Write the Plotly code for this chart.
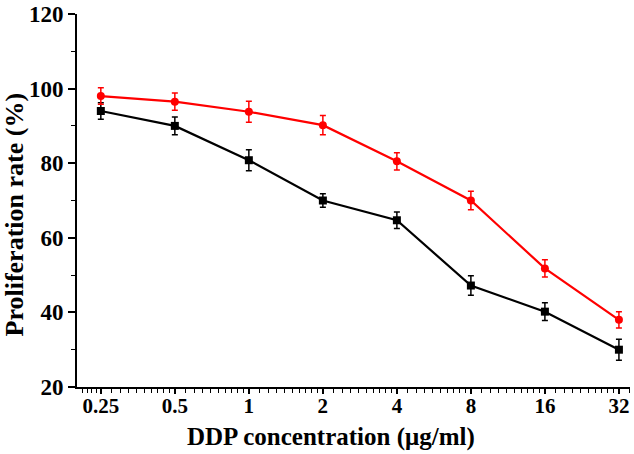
import numpy as np
import plotly.graph_objects as go

conc = [0.25, 0.5, 1, 2, 4, 8, 16, 32]
tick_text = ["0.25", "0.5", "1", "2", "4", "8", "16", "32"]

black_y = [94.0, 90.0, 80.8, 70.0, 64.7, 47.2, 40.2, 30.0]
black_err = [2.2, 2.4, 2.8, 1.8, 2.2, 2.6, 2.4, 2.8]

red_y = [98.0, 96.5, 93.8, 90.2, 80.5, 70.0, 51.8, 38.0]
red_err = [2.2, 2.3, 2.8, 2.6, 2.3, 2.5, 2.3, 2.2]

serif = "Liberation Serif, Times New Roman, serif"

# minor ticks: linear steps between neighbouring majors on the log axis
minor_x = []
edges = [0.2] + conc
for a, b in zip(edges[:-1], edges[1:]):
    step = (b - a) / 10 if a != 0.2 else 0.01
    minor_x += list(np.arange(a + step, b - step / 2, step))
minor_x += list(np.arange(32 + 3.2, 35.5, 3.2))

fig = go.Figure()
fig.add_trace(go.Scatter(
    x=conc, y=black_y, mode="lines+markers",
    line=dict(color="black", width=2.2),
    marker=dict(symbol="square", size=8, color="black"),
    error_y=dict(type="data", array=black_err, color="black", thickness=1.5, width=3),
    showlegend=False))
fig.add_trace(go.Scatter(
    x=conc, y=red_y, mode="lines+markers",
    line=dict(color="#ff0000", width=2.2),
    marker=dict(symbol="circle", size=8, color="#ff0000"),
    error_y=dict(type="data", array=red_err, color="#ff0000", thickness=1.5, width=3),
    showlegend=False))

fig.update_layout(
    width=634, height=454,
    margin=dict(l=77, r=4, t=14, b=67, autoexpand=False),
    plot_bgcolor="white", paper_bgcolor="white",
    font=dict(family=serif, color="black"),
)
fig.update_xaxes(
    type="log", range=[np.log10(0.2), np.log10(35.5)],
    tickvals=conc, ticktext=tick_text,
    tickfont=dict(size=21, family=serif, weight="bold"),
    showline=True, linecolor="black", linewidth=2,
    ticks="outside", ticklen=5, tickwidth=1.5, tickcolor="black",
    ticklabelstandoff=-6, ticklabeloverflow="allow",
    minor=dict(tickvals=minor_x, ticks="outside", ticklen=4, tickwidth=1.2, tickcolor="black"),
    showgrid=False, zeroline=False, automargin=False,
)
fig.update_yaxes(
    range=[20, 120], tickvals=[20, 40, 60, 80, 100, 120],
    tickfont=dict(size=23, family=serif, weight="bold"),
    showline=True, linecolor="black", linewidth=2,
    ticks="outside", ticklen=7, tickwidth=1.5, tickcolor="black",
    ticklabeloverflow="allow",
    minor=dict(dtick=10, ticks="outside", ticklen=4, tickwidth=1.2, tickcolor="black"),
    showgrid=False, zeroline=False, automargin=False,
)

fig.add_annotation(
    text="DDP concentration (μg/ml)", xref="paper", yref="paper",
    x=0.5, y=0, xanchor="center", yanchor="middle", xshift=-23, yshift=-50,
    showarrow=False, font=dict(size=25, family=serif, weight="bold"))
fig.add_annotation(
    text="Proliferation rate (%)", xref="paper", yref="paper",
    x=0, y=0.5, xanchor="center", yanchor="middle", xshift=-63, yshift=-14,
    textangle=-90, showarrow=False, font=dict(size=26, family=serif, weight="bold"))

# drop the default 8px page margin so the figure fills the window
fig.write_html("out.html", config={"displayModeBar": False},
               post_script="document.body.style.margin='0';")
